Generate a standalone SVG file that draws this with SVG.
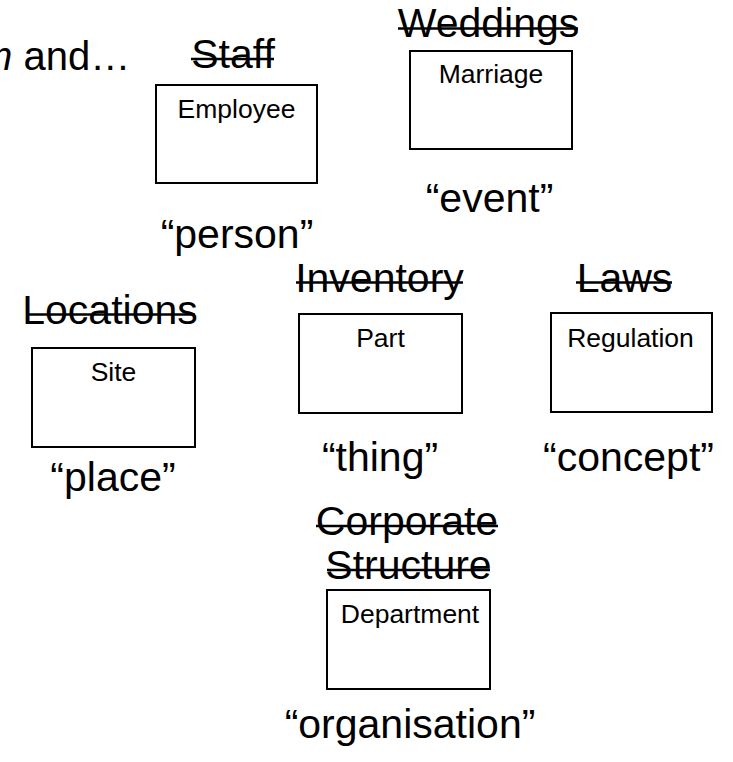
<svg xmlns="http://www.w3.org/2000/svg" width="733" height="762" viewBox="0 0 733 762">
<style>
  text { font-family: "Liberation Sans", Arial, Helvetica, sans-serif; fill: #000; }
  .big { font-size: 41px; text-anchor: middle; }
  .small { font-size: 26.5px; text-anchor: middle; }
  .box { fill: #fff; stroke: #000; stroke-width: 2; }
  .strike { stroke: #000; stroke-width: 2.5; }
</style>
<rect width="733" height="762" fill="#fff"/>
<text x="-21" y="70" font-size="40"><tspan font-style="italic">m</tspan> and…</text>

<g id="employee">
  <text class="big" x="233" y="68">Staff</text>
  <line class="strike" x1="191" y1="59" x2="274" y2="59"/>
  <rect class="box" x="156" y="85" width="161" height="98"/>
  <text class="small" x="236.5" y="118">Employee</text>
  <text class="big" x="237" y="248">“person”</text>
</g>

<g id="marriage">
  <text class="big" x="488.5" y="37">Weddings</text>
  <line class="strike" x1="398" y1="28.5" x2="578" y2="28.5"/>
  <rect class="box" x="410" y="51" width="162" height="98"/>
  <text class="small" x="491" y="83">Marriage</text>
  <text class="big" x="489.5" y="212">“event”</text>
</g>

<g id="site">
  <text class="big" x="110" y="324">Locations</text>
  <line class="strike" x1="26" y1="314.5" x2="195" y2="314.5"/>
  <rect class="box" x="32" y="348" width="163" height="99"/>
  <text class="small" x="113.5" y="381">Site</text>
  <text class="big" x="113" y="491">“place”</text>
</g>

<g id="part">
  <text class="big" x="379.5" y="292">Inventory</text>
  <line class="strike" x1="296" y1="282.5" x2="463" y2="282.5"/>
  <rect class="box" x="299" y="314" width="163" height="99"/>
  <text class="small" x="380.5" y="347">Part</text>
  <text class="big" x="380" y="471">“thing”</text>
</g>

<g id="regulation">
  <text class="big" x="624.5" y="292">Laws</text>
  <line class="strike" x1="576" y1="282.5" x2="672" y2="282.5"/>
  <rect class="box" x="551" y="313" width="161" height="99"/>
  <text class="small" x="630.5" y="347">Regulation</text>
  <text class="big" x="628.5" y="471">“concept”</text>
</g>

<g id="department">
  <text class="big" x="407" y="535">Corporate</text>
  <line class="strike" x1="316" y1="526" x2="498" y2="526"/>
  <text class="big" x="408.5" y="579">Structure</text>
  <line class="strike" x1="327" y1="570" x2="490" y2="570"/>
  <rect class="box" x="327" y="590" width="163" height="99"/>
  <text class="small" x="410" y="623">Department</text>
  <text class="big" x="410" y="738">“organisation”</text>
</g>

<g id="connectors"></g>
</svg>
